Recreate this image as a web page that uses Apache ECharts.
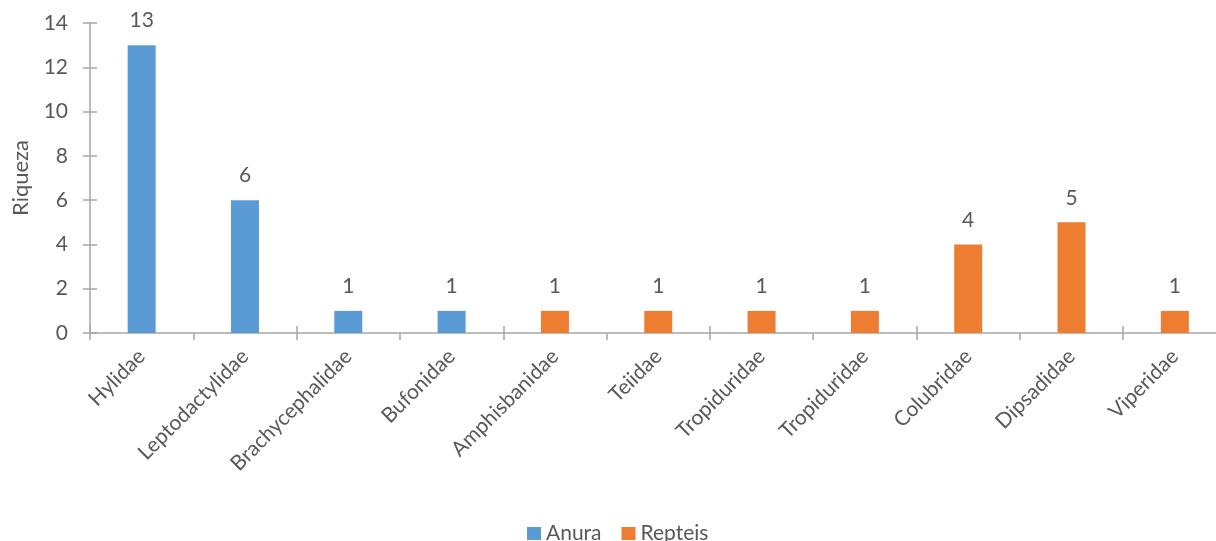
<!DOCTYPE html>
<html>
<head>
<meta charset="utf-8">
<script src="https://cdn.jsdelivr.net/npm/echarts@6/dist/echarts.min.js"></script>
<style>
  html, body { margin: 0; padding: 0; background: #fff; overflow: hidden; }
  /* the plot area runs slightly past the right edge of the window */
  #chart { width: 1228px; height: 541px; }
</style>
</head>
<body>
<div id="chart"></div>
<script>
// Families (the two Tropiduridae entries are separate columns)
const families = ['Hylidae', 'Leptodactylidae', 'Brachycephalidae', 'Bufonidae', 'Amphisbanidae',
  'Teiidae', 'Tropiduridae', 'Tropiduridae', 'Colubridae', 'Dipsadidae', 'Viperidae'];
// Species richness per family
const anura   = [13, 6, 1, 1, null, null, null, null, null, null, null];
const repteis = [null, null, null, null, 1, 1, 1, 1, 4, 5, 1];
const yTicks = { min: 0, max: 14, interval: 2 };

const font = 'Lato, "Open Sans", sans-serif';
const textColor = '#595959';
const axisGray = '#A6A6A6';

const chart = echarts.init(document.getElementById('chart'));

const labelStyle = {
  show: true, position: 'top', distance: 14,
  color: textColor, fontSize: 21, fontFamily: font
};

chart.setOption({
  animation: false,
  textStyle: { fontFamily: font },
  grid: { left: 90, right: 1.5, top: 23, bottom: 208, containLabel: false },
  legend: {
    top: 518, left: 522,
    itemWidth: 14, itemHeight: 13, itemGap: 20,
    icon: 'rect',
    textStyle: { color: textColor, fontSize: 21, fontFamily: font },
    data: ['Anura', 'Repteis']
  },
  xAxis: [{
    type: 'category',
    data: families,
    axisLine: { lineStyle: { color: axisGray, width: 1.5 } },
    axisTick: { show: true, length: 7, lineStyle: { color: axisGray, width: 1.5 } },
    axisLabel: {
      rotate: 45, interval: 0, margin: 20,
      color: textColor, fontSize: 21, fontFamily: font
    }
  }, {
    // inner half of the crossing category ticks
    type: 'category',
    data: families,
    position: 'bottom',
    axisLine: { show: false },
    axisTick: { show: true, inside: true, length: 7, lineStyle: { color: axisGray, width: 1.5 } },
    axisLabel: { show: false }
  }],
  yAxis: [{
    type: 'value',
    min: yTicks.min, max: yTicks.max, interval: yTicks.interval,
    name: 'Riqueza',
    nameLocation: 'middle',
    nameGap: 58,
    nameRotate: 90,
    nameTextStyle: { color: textColor, fontSize: 22, fontFamily: font },
    axisLine: { show: true, lineStyle: { color: axisGray, width: 1.5 } },
    axisTick: { show: true, length: 7, lineStyle: { color: axisGray, width: 1.5 } },
    splitLine: { show: false },
    axisLabel: { color: textColor, fontSize: 21, fontFamily: font, margin: 22 }
  }, {
    // inner half of the crossing value ticks
    type: 'value',
    position: 'left',
    min: yTicks.min, max: yTicks.max, interval: yTicks.interval,
    axisLine: { show: false },
    axisTick: { show: true, inside: true, length: 7, lineStyle: { color: axisGray, width: 1.5 } },
    splitLine: { show: false },
    axisLabel: { show: false }
  }],
  series: [{
    name: 'Anura', type: 'bar', stack: 'rich',
    data: anura, barWidth: 28,
    itemStyle: { color: '#5B9BD5' },
    label: labelStyle
  }, {
    name: 'Repteis', type: 'bar', stack: 'rich',
    data: repteis, barWidth: 28,
    itemStyle: { color: '#ED7D31' },
    label: labelStyle
  }]
});
</script>
</body>
</html>
